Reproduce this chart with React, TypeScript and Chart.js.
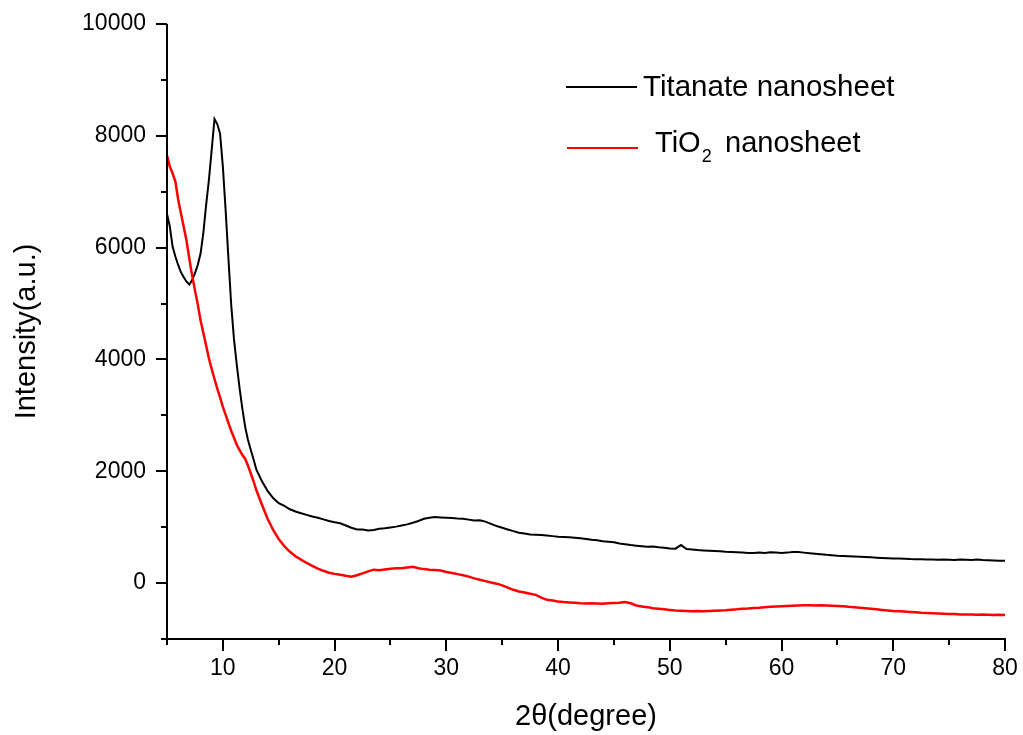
import { useEffect, useRef } from "react";
import { Chart, registerables } from "chart.js";

Chart.register(...registerables);

const FONT = '"Liberation Sans", Arial, Helvetica, sans-serif';

// 2θ values (degree)
const angles = [
  5, 5.25, 5.5, 5.75, 6, 6.25, 6.5, 6.75,
  7, 7.25, 7.5, 7.75, 8, 8.25, 8.5, 8.75,
  9, 9.25, 9.5, 9.75, 10, 10.25, 10.5, 10.75,
  11, 11.25, 11.5, 11.75, 12, 12.25, 12.5, 12.75,
  13, 13.5, 14, 14.5, 15, 15.5, 16, 16.5, 17, 17.5,
  18, 18.5, 19, 19.5, 20, 20.5, 21, 21.5, 22, 22.5,
  23, 23.5, 24, 24.5, 25, 25.5, 26, 26.5, 27, 27.5,
  28, 28.5, 29, 29.5, 30, 30.5, 31, 31.5, 32, 32.5,
  33, 33.5, 34, 34.5, 35, 35.5, 36, 36.5, 37, 37.5,
  38, 38.5, 39, 39.5, 40, 40.5, 41, 41.5, 42, 42.5,
  43, 43.5, 44, 44.5, 45, 45.5, 46, 46.5, 47, 47.5,
  48, 48.5, 49, 49.5, 50, 50.5, 51, 51.5, 52, 52.5,
  53, 53.5, 54, 54.5, 55, 55.5, 56, 56.5, 57, 57.5,
  58, 58.5, 59, 59.5, 60, 60.5, 61, 61.5, 62, 62.5,
  63, 63.5, 64, 64.5, 65, 65.5, 66, 66.5, 67, 67.5,
  68, 68.5, 69, 69.5, 70, 70.5, 71, 71.5, 72, 72.5,
  73, 73.5, 74, 74.5, 75, 75.5, 76, 76.5, 77, 77.5,
  78, 78.5, 79, 79.5, 80,
];

// Titanate nanosheet intensity
const titanate = [
  6600, 6380, 6020, 5840, 5690, 5560, 5470, 5390,
  5340, 5420, 5540, 5690, 5890, 6260, 6760, 7210,
  7750, 8300, 8210, 8040, 7450, 6660, 5800, 4970,
  4350, 3900, 3480, 3110, 2790, 2560, 2380, 2210,
  2030, 1820, 1650, 1520, 1430, 1380, 1320, 1280, 1250, 1220,
  1190, 1170, 1140, 1110, 1090, 1070, 1030, 990, 960, 960,
  940, 950, 970, 980, 995, 1010, 1030, 1050, 1080, 1110,
  1150, 1170, 1180, 1175, 1170, 1165, 1155, 1150, 1135, 1120,
  1125, 1100, 1060, 1020, 990, 960, 930, 900, 885, 870,
  865, 860, 850, 840, 830, 825, 820, 810, 800, 790,
  775, 765, 750, 740, 730, 710, 695, 680, 670, 660,
  650, 655, 640, 630, 620, 615, 680, 610, 600, 590,
  585, 580, 575, 570, 560, 555, 550, 545, 540, 540,
  545, 540, 550, 545, 540, 545, 555, 555, 545, 535,
  525, 515, 505, 500, 490, 485, 480, 475, 470, 465,
  460, 455, 450, 445, 440, 438, 435, 430, 428, 425,
  422, 420, 418, 420, 418, 415, 420, 418, 415, 420,
  412, 408, 405, 400, 400,
];

// TiO2 nanosheet intensity
const tio2 = [
  7650, 7450, 7330, 7180, 6860, 6610, 6370, 6120,
  5800, 5500, 5240, 4990, 4700, 4480, 4250, 4020,
  3830, 3650, 3480, 3320, 3150, 3010, 2860, 2720,
  2600, 2470, 2380, 2290, 2220, 2100, 1960, 1820,
  1660, 1400, 1150, 950, 790, 660, 560, 480, 420, 360,
  310, 260, 220, 185, 165, 150, 130, 115, 140, 175,
  210, 240, 230, 245, 255, 265, 265, 280, 290, 265,
  250, 240, 235, 225, 200, 180, 160, 140, 115, 85,
  60, 35, 10, -10, -40, -80, -120, -150, -170, -190,
  -210, -260, -300, -310, -330, -340, -345, -350, -360, -365,
  -360, -365, -370, -360, -355, -350, -340, -360, -400, -420,
  -430, -450, -460, -470, -480, -490, -495, -500, -505, -500,
  -505, -500, -495, -490, -485, -475, -470, -460, -455, -445,
  -440, -430, -425, -420, -415, -410, -405, -400, -395, -395,
  -400, -395, -400, -405, -410, -415, -425, -430, -440, -450,
  -460, -470, -480, -490, -500, -505, -510, -515, -520, -530,
  -535, -540, -545, -550, -555, -555, -560, -560, -560, -565,
  -560, -565, -570, -565, -570,
];

const yMajorTicks = [0, 2000, 4000, 6000, 8000, 10000];
const xMajorTicks = [10, 20, 30, 40, 50, 60, 70, 80];

const axesPlugin = {
  id: "originAxes",
  afterDraw(chart: any) {
    const { ctx, chartArea, scales } = chart;
    const { left, right, top, bottom } = chartArea;
    const xs = scales.x;
    const ys = scales.y;
    ctx.save();
    ctx.strokeStyle = "#000";
    ctx.lineWidth = 2;
    ctx.lineCap = "butt";
    ctx.beginPath();
    ctx.moveTo(left, top);
    ctx.lineTo(left, bottom + 1);
    ctx.moveTo(left - 1, bottom);
    ctx.lineTo(right + 1, bottom);
    ys.ticks.forEach((t: any) => {
      const py = Math.round(ys.getPixelForValue(t.value));
      const len = yMajorTicks.includes(t.value) ? 11 : 6;
      ctx.moveTo(left - len, py);
      ctx.lineTo(left, py);
    });
    xs.ticks.forEach((t: any) => {
      const px = Math.round(xs.getPixelForValue(t.value));
      const len = xMajorTicks.includes(t.value) ? 12 : 6;
      ctx.moveTo(px, bottom);
      ctx.lineTo(px, bottom + len);
    });
    ctx.stroke();
    ctx.restore();
  },
};

const legendPlugin = {
  id: "insideLegend",
  afterDraw(chart: any) {
    const { ctx } = chart;
    ctx.save();
    ctx.lineWidth = 2;
    ctx.strokeStyle = "#000";
    ctx.beginPath();
    ctx.moveTo(566, 87);
    ctx.lineTo(637, 87);
    ctx.stroke();
    ctx.strokeStyle = "#ff0000";
    ctx.beginPath();
    ctx.moveTo(567, 148);
    ctx.lineTo(638, 148);
    ctx.stroke();

    ctx.fillStyle = "#000";
    ctx.textAlign = "left";
    ctx.textBaseline = "alphabetic";
    ctx.font = `29.5px ${FONT}`;
    ctx.fillText("Titanate nanosheet", 643, 96);
    ctx.font = `29px ${FONT}`;
    ctx.fillText("TiO", 655, 152);
    const w = ctx.measureText("TiO").width;
    ctx.font = `18px ${FONT}`;
    ctx.fillText("2", 655 + w + 1, 162);
    ctx.font = `29px ${FONT}`;
    ctx.fillText("nanosheet", 725, 152);
    ctx.restore();
  },
};

export default function App() {
  const ref = useRef<HTMLCanvasElement | null>(null);

  useEffect(() => {
    if (!ref.current) return;
    const chart = new Chart(ref.current, {
      type: "line",
      data: {
        datasets: [
          {
            label: "Titanate nanosheet",
            data: angles.map((a, i) => ({ x: a, y: titanate[i] })),
            borderColor: "#000000",
            borderWidth: 2,
            pointRadius: 0,
            tension: 0,
            order: 1,
          },
          {
            label: "TiO2 nanosheet",
            data: angles.map((a, i) => ({ x: a, y: tio2[i] })),
            borderColor: "#ff0000",
            borderWidth: 2.5,
            pointRadius: 0,
            tension: 0,
            order: 0,
          },
        ],
      },
      options: {
        animation: false,
        responsive: false,
        devicePixelRatio: 1,
        layout: { padding: { top: 24, right: 18, bottom: 0, left: 0 } },
        plugins: {
          legend: { display: false },
          tooltip: { enabled: false },
        },
        scales: {
          x: {
            type: "linear",
            min: 5,
            max: 80,
            grid: { display: false, drawTicks: false },
            border: { display: false },
            afterFit: (s: any) => {
              s.height = 96;
              s.paddingLeft = 0;
              s.paddingRight = 0;
            },
            ticks: {
              stepSize: 5,
              autoSkip: false,
              maxRotation: 0,
              padding: 16,
              color: "#000",
              font: { family: FONT, size: 23 },
              callback: (v: any) => (xMajorTicks.includes(Number(v)) ? String(v) : ""),
            },
            title: {
              display: true,
              text: "2θ(degree)",
              color: "#000",
              font: { family: FONT, size: 29 },
              padding: { top: 0, bottom: 1 },
            },
          },
          y: {
            type: "linear",
            min: -1000,
            max: 10000,
            grid: { display: false, drawTicks: false },
            border: { display: false },
            afterFit: (s: any) => {
              s.width = 167;
              s.paddingTop = 0;
              s.paddingBottom = 0;
            },
            ticks: {
              stepSize: 1000,
              autoSkip: false,
              padding: 21,
              color: "#000",
              font: { family: FONT, size: 23 },
              callback: (v: any) => (yMajorTicks.includes(Number(v)) ? String(v) : ""),
            },
            title: {
              display: true,
              text: "Intensity(a.u.)",
              color: "#000",
              font: { family: FONT, size: 29 },
              padding: { top: 10, bottom: 0 },
            },
          },
        },
      },
      plugins: [axesPlugin, legendPlugin],
    });
    return () => chart.destroy();
  }, []);

  return (
    <div style={{ position: "absolute", left: 0, top: 0, width: 1023, height: 735, background: "#fff" }}>
      <canvas ref={ref} width={1023} height={735} style={{ display: "block" }} />
    </div>
  );
}
